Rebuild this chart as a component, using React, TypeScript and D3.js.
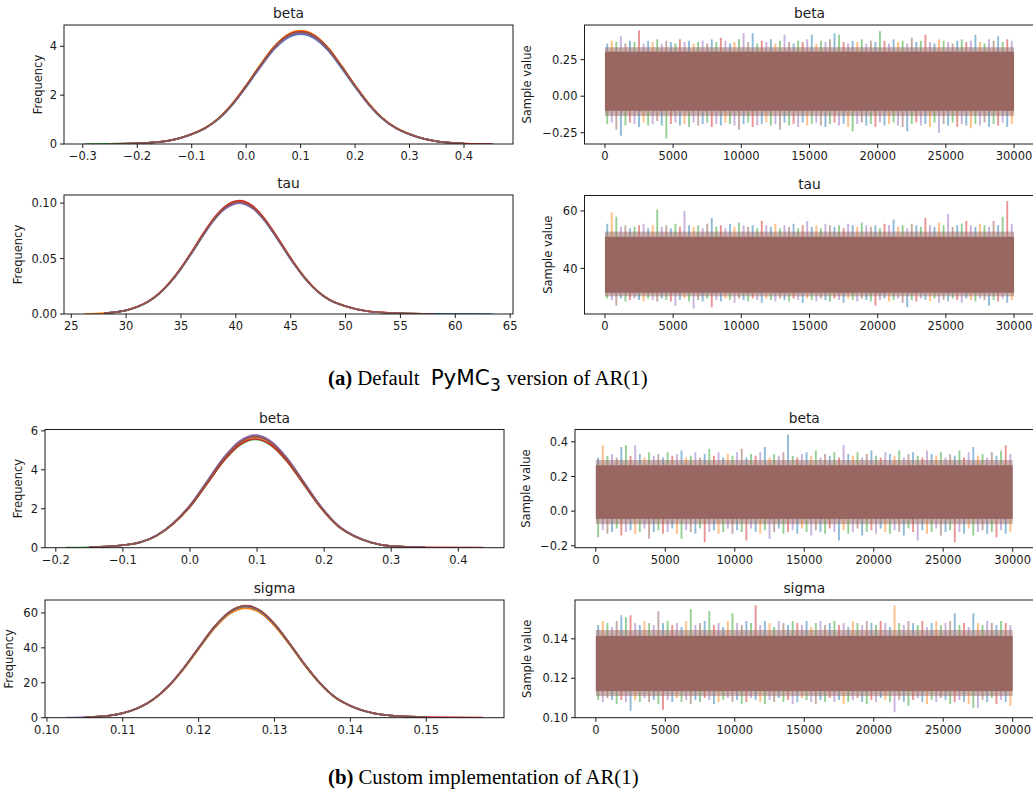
import React from "react";
import * as d3 from "d3";

// Chain colours (one per MCMC chain, matplotlib tab10 order)
const CHAIN_COLORS = ["#1f77b4", "#ff7f0e", "#2ca02c", "#d62728", "#9467bd", "#8c564b"];
// Where all six chains overlap at half opacity the trace reads as one muted brown
const OVERLAP_COLOR = "#986762";
const N_ITER = 30000;

// ---------- (a) default model: beta posterior density ----------
const betaA_x = [-0.297, -0.25, -0.2, -0.175, -0.15, -0.125, -0.1, -0.075, -0.05, -0.025, 0, 0.025, 0.05, 0.075, 0.1, 0.125, 0.15, 0.175, 0.2, 0.225, 0.25, 0.275, 0.3, 0.325, 0.35, 0.4, 0.4525];
const betaA_y = [0, 0.01, 0.03, 0.06, 0.11, 0.22, 0.4, 0.65, 1.05, 1.63, 2.36, 3.15, 3.88, 4.38, 4.55, 4.38, 3.88, 3.15, 2.36, 1.63, 1.05, 0.65, 0.4, 0.22, 0.11, 0.02, 0];
const betaA_peaks = [4.5, 4.64, 4.56, 4.6, 4.53, 4.58];
const betaA_from = [-0.25, -0.25, -0.297, -0.25, -0.25, -0.25];
const betaA_to = [0.4525, 0.4, 0.4, 0.4525, 0.4, 0.4];

// ---------- (a) default model: tau posterior density ----------
const tauA_x = [26.2, 28, 30, 31, 32, 33, 34, 35, 36, 37, 38, 39, 40.3, 41.5, 42.5, 43.5, 44.5, 45.5, 46.5, 47.5, 48.5, 50, 52, 55, 58, 63.4];
const tauA_y = [0, 0.0007, 0.0033, 0.0064, 0.0111, 0.0183, 0.0285, 0.0411, 0.0558, 0.0713, 0.0854, 0.0957, 0.101, 0.0965, 0.0865, 0.0727, 0.0575, 0.0428, 0.03, 0.02, 0.013, 0.007, 0.0025, 0.0006, 0.0001, 0];
const tauA_peaks = [0.1, 0.1015, 0.1005, 0.1022, 0.1, 0.101];
const tauA_from = [28, 26.2, 28, 28, 28, 28];
const tauA_to = [63.4, 58, 58, 58, 58, 58];

// ---------- (b) custom model: beta posterior density ----------
const betaB_x = [-0.185, -0.15, -0.1, -0.075, -0.05, -0.025, 0, 0.025, 0.05, 0.075, 0.097, 0.12, 0.145, 0.17, 0.195, 0.22, 0.245, 0.27, 0.3, 0.35, 0.437];
const betaB_y = [0, 0.02, 0.13, 0.27, 0.62, 1.25, 2.15, 3.34, 4.55, 5.42, 5.7, 5.41, 4.53, 3.31, 2.1, 1.15, 0.6, 0.27, 0.08, 0.02, 0];
const betaB_peaks = [5.75, 5.68, 5.56, 5.58, 5.78, 5.7];
const betaB_from = [-0.15, -0.15, -0.185, -0.15, -0.15, -0.15];
const betaB_to = [0.35, 0.35, 0.35, 0.437, 0.35, 0.35];

// ---------- (b) custom model: sigma posterior density ----------
const sigmaB_x = [0.1025, 0.105, 0.108, 0.11, 0.112, 0.114, 0.116, 0.118, 0.12, 0.122, 0.124, 0.1262, 0.128, 0.13, 0.132, 0.134, 0.136, 0.138, 0.14, 0.143, 0.146, 0.15, 0.1575];
const sigmaB_y = [0, 0.3, 1.1, 2.6, 5.5, 10.4, 18.0, 28.2, 40.0, 51.6, 60.3, 64.0, 61.5, 53.6, 42.4, 30.4, 19.8, 11.7, 6.8, 2.6, 1.0, 0.3, 0];
const sigmaB_peaks = [64.0, 62.8, 63.6, 64.2, 63.8, 64.0];
const sigmaB_from = [0.105, 0.105, 0.105, 0.105, 0.1025, 0.105];
const sigmaB_to = [0.15, 0.15, 0.15, 0.1575, 0.15, 0.15];

// ---------- trace envelopes: dense core, fringe, per-bin extremes ----------
const betaA_core = [-0.1, 0.305];
const betaA_fringe = [-0.135, 0.335];
const betaA_upper = [
  0.36, 0.38, 0.37, 0.41, 0.36, 0.38, 0.37, 0.45, 0.36, 0.38,
  0.37, 0.39, 0.36, 0.38, 0.37, 0.36, 0.39, 0.37, 0.38, 0.36,
  0.37, 0.38, 0.36, 0.39, 0.37, 0.4, 0.38, 0.36, 0.37, 0.39,
  0.43, 0.37, 0.43, 0.36, 0.38, 0.37, 0.39, 0.36, 0.38, 0.42,
  0.37, 0.36, 0.38, 0.37, 0.39, 0.42, 0.36, 0.38, 0.37, 0.39,
  0.43, 0.42, 0.37, 0.36, 0.38, 0.37, 0.39, 0.36, 0.38, 0.37,
  0.445, 0.38, 0.36, 0.39, 0.37, 0.38, 0.36, 0.4, 0.37, 0.38,
  0.42, 0.37, 0.36, 0.39, 0.38, 0.37, 0.36, 0.38, 0.39, 0.37,
  0.38, 0.42, 0.37, 0.36, 0.39, 0.38, 0.41, 0.37, 0.39, 0.38,
];
const betaA_lower = [
  -0.19, -0.18, -0.23, -0.27, -0.2, -0.18, -0.19, -0.21, -0.18, -0.2,
  -0.19, -0.17, -0.2, -0.29, -0.19, -0.18, -0.2, -0.19, -0.21, -0.18,
  -0.2, -0.19, -0.18, -0.21, -0.19, -0.2, -0.18, -0.19, -0.2, -0.23,
  -0.19, -0.18, -0.21, -0.2, -0.19, -0.18, -0.2, -0.19, -0.23, -0.18,
  -0.2, -0.19, -0.21, -0.18, -0.2, -0.19, -0.18, -0.2, -0.21, -0.19,
  -0.18, -0.2, -0.19, -0.21, -0.24, -0.19, -0.18, -0.2, -0.19, -0.21,
  -0.18, -0.2, -0.19, -0.18, -0.2, -0.21, -0.24, -0.19, -0.18, -0.2,
  -0.19, -0.21, -0.18, -0.25, -0.19, -0.2, -0.18, -0.21, -0.19, -0.2,
  -0.22, -0.19, -0.2, -0.18, -0.21, -0.19, -0.2, -0.18, -0.21, -0.19,
];

const tauA_core = [31.5, 51.0];
const tauA_fringe = [30.3, 52.8];
const tauA_upper = [
  55.5, 59.5, 58, 54.5, 55, 54, 54.5, 55, 55.5, 54,
  55, 60.5, 54.5, 55, 54, 55.5, 54.5, 60, 55, 54.5,
  55, 54, 55.5, 57.5, 54.5, 55, 54, 55.5, 54.5, 56,
  55, 54.5, 55, 54, 56.5, 55, 54.5, 55.5, 54, 55,
  54.5, 55.5, 54, 55, 56.5, 54.5, 55, 54, 55.5, 55,
  54.5, 55, 54, 55.5, 55, 54.5, 56, 55, 54.5, 55,
  54, 55.5, 55, 57, 54.5, 55, 54, 55.5, 55, 54.5,
  57.5, 55, 54.5, 56, 55, 59, 54.5, 55, 55.5, 56.5,
  55, 54.5, 55.5, 55, 54.5, 56.5, 55, 58, 63.5, 55.5,
];
const tauA_lower = [
  29.5, 29, 27, 29.5, 28.5, 29, 29.5, 29, 28.5, 29.5,
  29, 28.5, 29.5, 29, 28.5, 27, 29, 29.5, 28.5, 26,
  29, 28.5, 29.5, 26.5, 29, 28.5, 29.5, 29, 28, 29.5,
  29, 28.5, 29.5, 29, 28, 29.5, 29, 28.5, 29.5, 29,
  28.5, 29.5, 29, 28, 29.5, 29, 28.5, 29.5, 29, 28.5,
  29.5, 29, 28, 29.5, 29, 28.5, 29.5, 29, 28.5, 27,
  29, 29.5, 28.5, 29, 29.5, 28, 26.5, 29, 28.5, 29.5,
  29, 28.5, 29.5, 28, 29, 28.5, 29.5, 29, 28, 29.5,
  29, 28.5, 29.5, 29, 27, 29, 28.5, 29.5, 28, 29,
];

const betaB_core = [-0.045, 0.265];
const betaB_fringe = [-0.075, 0.295];
const betaB_upper = [
  0.31, 0.38, 0.32, 0.33, 0.31, 0.37, 0.38, 0.32, 0.38, 0.33,
  0.31, 0.34, 0.32, 0.33, 0.31, 0.34, 0.32, 0.33, 0.35, 0.31,
  0.32, 0.34, 0.31, 0.33, 0.36, 0.32, 0.34, 0.31, 0.33, 0.32,
  0.34, 0.36, 0.31, 0.33, 0.32, 0.34, 0.37, 0.31, 0.33, 0.32,
  0.34, 0.44, 0.32, 0.31, 0.33, 0.34, 0.32, 0.35, 0.31, 0.33,
  0.32, 0.34, 0.31, 0.38, 0.33, 0.32, 0.34, 0.31, 0.33, 0.35,
  0.32, 0.31, 0.34, 0.33, 0.32, 0.35, 0.31, 0.33, 0.34, 0.32,
  0.31, 0.35, 0.33, 0.32, 0.34, 0.31, 0.33, 0.32, 0.35, 0.31,
  0.34, 0.37, 0.32, 0.33, 0.31, 0.34, 0.32, 0.35, 0.38, 0.33,
];
const betaB_lower = [
  -0.15, -0.11, -0.13, -0.12, -0.1, -0.14, -0.12, -0.11, -0.13, -0.12,
  -0.1, -0.16, -0.12, -0.11, -0.13, -0.12, -0.1, -0.13, -0.16, -0.11,
  -0.12, -0.13, -0.1, -0.18, -0.12, -0.11, -0.13, -0.12, -0.1, -0.13,
  -0.11, -0.12, -0.17, -0.1, -0.12, -0.13, -0.11, -0.16, -0.12, -0.1,
  -0.13, -0.12, -0.11, -0.13, -0.1, -0.12, -0.14, -0.11, -0.12, -0.13,
  -0.1, -0.12, -0.17, -0.11, -0.13, -0.12, -0.1, -0.14, -0.12, -0.11,
  -0.13, -0.1, -0.12, -0.13, -0.11, -0.12, -0.14, -0.1, -0.12, -0.17,
  -0.11, -0.13, -0.12, -0.1, -0.14, -0.12, -0.11, -0.18, -0.12, -0.13,
  -0.1, -0.14, -0.12, -0.11, -0.13, -0.12, -0.15, -0.11, -0.13, -0.12,
];

const sigmaB_core = [0.1135, 0.1415];
const sigmaB_fringe = [0.111, 0.1445];
const sigmaB_upper = [
  0.147, 0.149, 0.148, 0.146, 0.149, 0.152, 0.151, 0.152, 0.148, 0.147,
  0.149, 0.148, 0.147, 0.154, 0.148, 0.149, 0.147, 0.148, 0.146, 0.149,
  0.155, 0.147, 0.148, 0.149, 0.154, 0.147, 0.148, 0.146, 0.149, 0.153,
  0.148, 0.147, 0.149, 0.148, 0.157, 0.147, 0.149, 0.148, 0.146, 0.149,
  0.148, 0.147, 0.149, 0.148, 0.147, 0.149, 0.146, 0.148, 0.149, 0.147,
  0.148, 0.149, 0.147, 0.148, 0.146, 0.149, 0.148, 0.147, 0.149, 0.148,
  0.147, 0.149, 0.148, 0.146, 0.157, 0.148, 0.147, 0.149, 0.148, 0.147,
  0.149, 0.146, 0.148, 0.149, 0.147, 0.148, 0.149, 0.153, 0.147, 0.148,
  0.146, 0.153, 0.148, 0.147, 0.149, 0.148, 0.147, 0.149, 0.148, 0.147,
];
const sigmaB_lower = [
  0.109, 0.108, 0.11, 0.109, 0.107, 0.109, 0.108, 0.1035, 0.109, 0.108,
  0.11, 0.108, 0.109, 0.107, 0.104, 0.109, 0.108, 0.11, 0.108, 0.109,
  0.107, 0.109, 0.108, 0.11, 0.109, 0.107, 0.108, 0.109, 0.11, 0.108,
  0.109, 0.107, 0.108, 0.11, 0.109, 0.108, 0.107, 0.109, 0.108, 0.11,
  0.108, 0.109, 0.107, 0.108, 0.11, 0.109, 0.108, 0.107, 0.109, 0.108,
  0.11, 0.108, 0.109, 0.107, 0.108, 0.109, 0.11, 0.108, 0.107, 0.109,
  0.108, 0.11, 0.109, 0.108, 0.1027, 0.109, 0.108, 0.106, 0.109, 0.11,
  0.108, 0.107, 0.109, 0.108, 0.11, 0.109, 0.107, 0.108, 0.109, 0.108,
  0.107, 0.105, 0.105, 0.109, 0.108, 0.11, 0.107, 0.109, 0.108, 0.106,
];

// ---------- tick values ----------
const traceXTicks = [0, 5000, 10000, 15000, 20000, 25000, 30000];
const betaA_xTicks = [-0.3, -0.2, -0.1, 0, 0.1, 0.2, 0.3, 0.4];
const betaA_yTicks = [0, 2, 4];
const betaA_traceTicks = [-0.25, 0, 0.25];
const tauA_xTicks = [25, 30, 35, 40, 45, 50, 55, 60, 65];
const tauA_yTicks = [0, 0.05, 0.1];
const tauA_traceTicks = [40, 60];
const betaB_xTicks = [-0.2, -0.1, 0, 0.1, 0.2, 0.3, 0.4];
const betaB_yTicks = [0, 2, 4, 6];
const betaB_traceTicks = [-0.2, 0, 0.2, 0.4];
const sigmaB_xTicks = [0.1, 0.11, 0.12, 0.13, 0.14, 0.15];
const sigmaB_yTicks = [0, 20, 40, 60];
const sigmaB_traceTicks = [0.1, 0.12, 0.14];

const FONT = "'DejaVu Sans', sans-serif";
const SERIF = "'Liberation Serif', serif";
const TICK_FS = 11.5;
const TITLE_FS = 13.8;
const TICK_LEN = 4;
const INK = "#1a1a1a";

type Box = { l: number; r: number; t: number; b: number };

function Axes({ box, x, y, xTicks, xFmt, yTicks, yFmt, title, ylabel, ylabelX, children, clipId }: any) {
  return (
    <g>
      <defs>
        <clipPath id={clipId}>
          <rect x={box.l} y={box.t} width={box.r - box.l} height={box.b - box.t} />
        </clipPath>
      </defs>
      <g clipPath={`url(#${clipId})`}>{children}</g>
      <rect x={box.l} y={box.t} width={box.r - box.l} height={box.b - box.t} fill="none" stroke={INK} strokeWidth={1} />
      {xTicks.map((v: number) => (
        <g key={"x" + v}>
          <line x1={x(v)} x2={x(v)} y1={box.b} y2={box.b + TICK_LEN} stroke={INK} strokeWidth={1} />
          <text x={x(v)} y={box.b + TICK_LEN + 3 + TICK_FS * 0.78} textAnchor="middle" fontSize={TICK_FS} fontFamily={FONT} fill={INK}>
            {xFmt(v)}
          </text>
        </g>
      ))}
      {yTicks.map((v: number) => (
        <g key={"y" + v}>
          <line x1={box.l - TICK_LEN} x2={box.l} y1={y(v)} y2={y(v)} stroke={INK} strokeWidth={1} />
          <text x={box.l - TICK_LEN - 3} y={y(v)} dy="0.36em" textAnchor="end" fontSize={TICK_FS} fontFamily={FONT} fill={INK}>
            {yFmt(v)}
          </text>
        </g>
      ))}
      <text x={(box.l + box.r) / 2} y={box.t - 7} textAnchor="middle" fontSize={TITLE_FS} fontFamily={FONT} fill={INK}>
        {title}
      </text>
      <text
        transform={`translate(${ylabelX},${(box.t + box.b) / 2}) rotate(-90)`}
        dy="0.36em"
        textAnchor="middle"
        fontSize={TICK_FS}
        fontFamily={FONT}
        fill={INK}
      >
        {ylabel}
      </text>
    </g>
  );
}

function DensityPanel(props: any) {
  const { box, xs, ys, peaks, from, to, xTicks, xFmt, yTicks, yFmt, title, ylabelX, id } = props;
  const [x0, x1] = d3.extent(xs) as [number, number];
  const pad = (x1 - x0) * 0.05;
  const x = d3.scaleLinear().domain([x0 - pad, x1 + pad]).range([box.l, box.r]);
  const y = d3.scaleLinear().domain([0, (d3.max(peaks) as number) * 1.05]).range([box.b, box.t]);
  const basePeak = d3.max(ys) as number;
  const line = d3
    .line<[number, number]>()
    .x((d) => x(d[0]))
    .y((d) => y(d[1]))
    .curve(d3.curveMonotoneX);
  return (
    <Axes box={box} x={x} y={y} xTicks={xTicks} xFmt={xFmt} yTicks={yTicks} yFmt={yFmt} title={title} ylabel="Frequency" ylabelX={ylabelX} clipId={id}>
      {CHAIN_COLORS.map((c, i) => {
        const k = peaks[i] / basePeak;
        const pts = xs
          .map((v: number, j: number) => [v, ys[j] * k] as [number, number])
          .filter((p: [number, number]) => p[0] >= from[i] - 1e-9 && p[0] <= to[i] + 1e-9);
        return <path key={c} d={line(pts) || ""} fill="none" stroke={c} strokeWidth={1.7} />;
      })}
    </Axes>
  );
}

// chain that produced the extreme in a bin, cycled so neighbouring bins differ
const chainOf = (i: number) => (i * 7 + Math.floor(i / 3)) % 6;

function TracePanel(props: any) {
  const { box, core, fringe, upper, lower, yTicks, yFmt, title, ylabelX, id } = props;
  const lo = d3.min(lower) as number;
  const hi = d3.max(upper) as number;
  const yp = (hi - lo) * 0.05;
  const x = d3.scaleLinear().domain([-N_ITER * 0.05, N_ITER * 1.05]).range([box.l, box.r]);
  const y = d3.scaleLinear().domain([lo - yp, hi + yp]).range([box.b, box.t]);
  const step = N_ITER / upper.length;
  const xa = x(0);
  const xb = x(N_ITER);
  return (
    <Axes box={box} x={x} y={y} xTicks={traceXTicks} xFmt={d3.format("d")} yTicks={yTicks} yFmt={yFmt} title={title} ylabel="Sample value" ylabelX={ylabelX} clipId={id}>
      {upper.map((v: number, i: number) => {
        const xi = x((i + 0.5) * step);
        return (
          <line key={"u" + i} x1={xi} x2={xi} y1={y(core[1])} y2={y(v)} stroke={CHAIN_COLORS[chainOf(i)]} strokeOpacity={0.5} strokeWidth={1.9} />
        );
      })}
      {lower.map((v: number, i: number) => {
        const xi = x((i + 0.5) * step);
        return (
          <line key={"l" + i} x1={xi} x2={xi} y1={y(core[0])} y2={y(v)} stroke={CHAIN_COLORS[chainOf(i + 2)]} strokeOpacity={0.5} strokeWidth={1.9} />
        );
      })}
      <rect x={xa} width={xb - xa} y={y(fringe[1])} height={y(fringe[0]) - y(fringe[1])} fill={OVERLAP_COLOR} fillOpacity={0.5} />
      <rect x={xa} width={xb - xa} y={y(core[1])} height={y(core[0]) - y(core[1])} fill={OVERLAP_COLOR} />
    </Axes>
  );
}

const f1 = d3.format(".1f");
const f2 = d3.format(".2f");
const fd = d3.format("d");

export default function App() {
  const A1: Box = { l: 64, r: 513, t: 25, b: 144 };
  const A2: Box = { l: 584.5, r: 1034.5, t: 25, b: 144 };
  const A3: Box = { l: 64, r: 513, t: 195, b: 314 };
  const A4: Box = { l: 584.5, r: 1034.5, t: 195.5, b: 314 };
  const B1: Box = { l: 45, r: 504, t: 429.5, b: 547.7 };
  const B2: Box = { l: 575, r: 1033.5, t: 429.5, b: 547.7 };
  const B3: Box = { l: 45, r: 504, t: 600, b: 717.7 };
  const B4: Box = { l: 575, r: 1033.5, t: 600, b: 717.7 };
  return (
    <div style={{ position: "absolute", left: 0, top: 0 }}>
      <svg width={1033} height={796} style={{ display: "block", background: "#fff" }}>
        <DensityPanel id="a1" box={A1} xs={betaA_x} ys={betaA_y} peaks={betaA_peaks} from={betaA_from} to={betaA_to} xTicks={betaA_xTicks} xFmt={f1} yTicks={betaA_yTicks} yFmt={fd} title="beta" ylabelX={37.5} />
        <TracePanel id="a2" box={A2} core={betaA_core} fringe={betaA_fringe} upper={betaA_upper} lower={betaA_lower} yTicks={betaA_traceTicks} yFmt={f2} title="beta" ylabelX={526.7} />
        <DensityPanel id="a3" box={A3} xs={tauA_x} ys={tauA_y} peaks={tauA_peaks} from={tauA_from} to={tauA_to} xTicks={tauA_xTicks} xFmt={fd} yTicks={tauA_yTicks} yFmt={f2} title="tau" ylabelX={18} />
        <TracePanel id="a4" box={A4} core={tauA_core} fringe={tauA_fringe} upper={tauA_upper} lower={tauA_lower} yTicks={tauA_traceTicks} yFmt={fd} title="tau" ylabelX={548.3} />
        <DensityPanel id="b1" box={B1} xs={betaB_x} ys={betaB_y} peaks={betaB_peaks} from={betaB_from} to={betaB_to} xTicks={betaB_xTicks} xFmt={f1} yTicks={betaB_yTicks} yFmt={fd} title="beta" ylabelX={17.7} />
        <TracePanel id="b2" box={B2} core={betaB_core} fringe={betaB_fringe} upper={betaB_upper} lower={betaB_lower} yTicks={betaB_traceTicks} yFmt={f1} title="beta" ylabelX={525.5} />
        <DensityPanel id="b3" box={B3} xs={sigmaB_x} ys={sigmaB_y} peaks={sigmaB_peaks} from={sigmaB_from} to={sigmaB_to} xTicks={sigmaB_xTicks} xFmt={f2} yTicks={sigmaB_yTicks} yFmt={fd} title="sigma" ylabelX={9} />
        <TracePanel id="b4" box={B4} core={sigmaB_core} fringe={sigmaB_fringe} upper={sigmaB_upper} lower={sigmaB_lower} yTicks={sigmaB_traceTicks} yFmt={f2} title="sigma" ylabelX={527.3} />

        <text x={328} y={385} fontFamily={SERIF} fontSize={20.8} fill="#000">
          <tspan fontWeight="bold">(a)</tspan>
          <tspan dx={5}>Default</tspan>
          <tspan dx={11} fontFamily={FONT} fontSize={21.5}>PyMC</tspan>
          <tspan dy={6} fontFamily={FONT} fontSize={17}>3</tspan>
          <tspan dy={-6} dx={6}>version of AR(1)</tspan>
        </text>
        <text x={328} y={784} fontFamily={SERIF} fontSize={20.8} fill="#000">
          <tspan fontWeight="bold">(b)</tspan>
          <tspan dx={5}>Custom implementation of AR(1)</tspan>
        </text>
      </svg>
    </div>
  );
}
